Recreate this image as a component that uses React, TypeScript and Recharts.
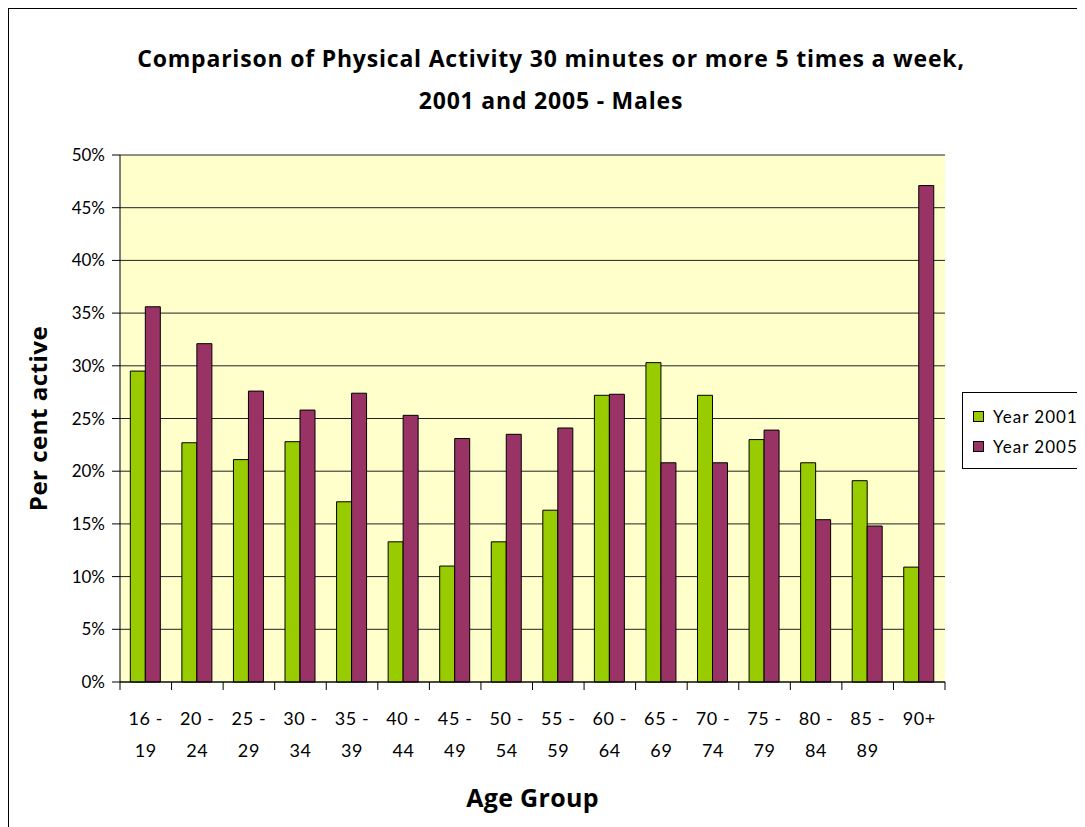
import { Bar, BarChart, CartesianGrid, Label, Legend, XAxis, YAxis } from "recharts";

const ageGroups = [
  "16 - 19", "20 - 24", "25 - 29", "30 - 34", "35 - 39", "40 - 44", "45 - 49", "50 - 54",
  "55 - 59", "60 - 64", "65 - 69", "70 - 74", "75 - 79", "80 - 84", "85 - 89", "90+"
];
const year2001 = [29.5, 22.7, 21.1, 22.8, 17.1, 13.3, 11.0, 13.3, 16.3, 27.2, 30.3, 27.2, 23.0, 20.8, 19.1, 10.9];
const year2005 = [35.6, 32.1, 27.6, 25.8, 27.4, 25.3, 23.1, 23.5, 24.1, 27.3, 20.8, 20.8, 23.9, 15.4, 14.8, 47.1];
const yTicks = [0, 5, 10, 15, 20, 25, 30, 35, 40, 45, 50];

const series = [
  { key: "y2001", name: "Year 2001", color: "#99CC00" },
  { key: "y2005", name: "Year 2005", color: "#993366" }
];

const data = ageGroups.map((group, i) => ({ group, y2001: year2001[i], y2005: year2005[i] }));

const font = "Lato, 'Open Sans', sans-serif";
const titleFont = "'Open Sans', Lato, sans-serif";
const plotWidth = 825;
const band = plotWidth / ageGroups.length;

const AgeTick = (props: any) => {
  const { x, y, payload, index } = props;
  const [first, second] = String(payload.value).split(" - ");
  const textProps = {
    x,
    textAnchor: "middle" as const,
    fontSize: 18,
    fontFamily: font,
    letterSpacing: 0.6,
    fill: "#000"
  };
  return (
    <g>
      <line x1={x - band / 2} x2={x - band / 2} y1={y} y2={y + 8} stroke="#000" />
      {index === ageGroups.length - 1 && (
        <line x1={x + band / 2} x2={x + band / 2} y1={y} y2={y + 8} stroke="#000" />
      )}
      <text {...textProps} y={y + 43}>
        {second ? `${first} -` : first}
      </text>
      {second && (
        <text {...textProps} y={y + 75}>
          {second}
        </text>
      )}
    </g>
  );
};

const LegendBox = () => (
  <div
    style={{
      border: "1px solid #000",
      background: "#fff",
      width: 140,
      padding: "8px 0 7px 10px",
      fontFamily: font,
      fontSize: 17,
      letterSpacing: 1
    }}
  >
    {series.map((s) => (
      <div key={s.key} style={{ display: "flex", alignItems: "center", height: 30 }}>
        <span
          style={{
            display: "inline-block",
            width: 9,
            height: 9,
            background: s.color,
            border: "1px solid #000",
            marginRight: 9
          }}
        />
        <span>{s.name}</span>
      </div>
    ))}
  </div>
);

export default function App() {
  return (
    <div
      style={{
        position: "relative",
        width: 1100,
        height: 840,
        border: "1px solid #000",
        background: "#fff",
        fontFamily: font
      }}
    >
      <div
        style={{
          position: "absolute",
          top: 28,
          left: 0,
          width: 1084,
          textAlign: "center",
          fontWeight: 700,
          fontSize: 23,
          letterSpacing: 0.8,
          fontFamily: titleFont,
          lineHeight: "42px",
          color: "#000"
        }}
      >
        Comparison of Physical Activity 30 minutes or more 5 times a week,
        <br />
        2001 and 2005 - Males
      </div>
      <div style={{ position: "absolute", top: 0, left: 0 }}>
        <BarChart
          width={1076}
          height={818}
          data={data}
          margin={{ top: 146, right: 140, bottom: 65, left: 51 }}
          barCategoryGap="20%"
          barGap={0}
        >
          <CartesianGrid vertical={false} stroke="#222" fill="#FFFFCC" />
          <XAxis
            dataKey="group"
            height={80}
            interval={0}
            tickSize={0}
            tickMargin={0}
            tickLine={false}
            axisLine={{ stroke: "#000" }}
            tick={<AgeTick />}
          >
            <Label
              content={({ viewBox }: any) => (
                <text
                  x={viewBox.x + viewBox.width / 2}
                  y={viewBox.y + viewBox.height + 35}
                  textAnchor="middle"
                  dominantBaseline="central"
                  fontSize={25}
                  letterSpacing={0.3}
                  fontWeight={700}
                  fontFamily={titleFont}
                  fill="#000"
                >
                  Age Group
                </text>
              )}
            />
          </XAxis>
          <XAxis
            xAxisId="top"
            orientation="top"
            dataKey="group"
            height={0}
            tick={false}
            tickLine={false}
            axisLine={{ stroke: "#999" }}
          />
          <YAxis
            width={60}
            domain={[0, 50]}
            ticks={yTicks}
            interval={0}
            tickSize={8}
            tickMargin={7}
            tickFormatter={(v) => `${v}%`}
            tick={{ fontSize: 17, fill: "#000", fontFamily: font }}
            tickLine={{ stroke: "#000" }}
            axisLine={{ stroke: "#000" }}
          >
            <Label
              content={({ viewBox }: any) => {
                const cx = viewBox.x - 23;
                const cy = viewBox.y + viewBox.height / 2;
                return (
                  <text
                    x={cx}
                    y={cy}
                    transform={`rotate(-90, ${cx}, ${cy})`}
                    textAnchor="middle"
                    dominantBaseline="central"
                    fontSize={24}
                    letterSpacing={0.5}
                    fontWeight={700}
                    fontFamily={titleFont}
                    fill="#000"
                  >
                    Per cent active
                  </text>
                );
              }}
            />
          </YAxis>
          <YAxis
            yAxisId="right"
            orientation="right"
            width={0}
            domain={[0, 50]}
            tick={false}
            tickLine={false}
            axisLine={{ stroke: "#999" }}
          />
          <Legend
            layout="horizontal"
            verticalAlign="middle"
            align="center"
            content={() => <LegendBox />}
            wrapperStyle={{ position: "absolute", left: 953, top: 383, width: "auto" }}
          />
          {series.map((s) => (
            <Bar
              key={s.key}
              dataKey={s.key}
              name={s.name}
              fill={s.color}
              stroke="#000"
              strokeWidth={1}
              isAnimationActive={false}
            />
          ))}
        </BarChart>
      </div>
    </div>
  );
}
